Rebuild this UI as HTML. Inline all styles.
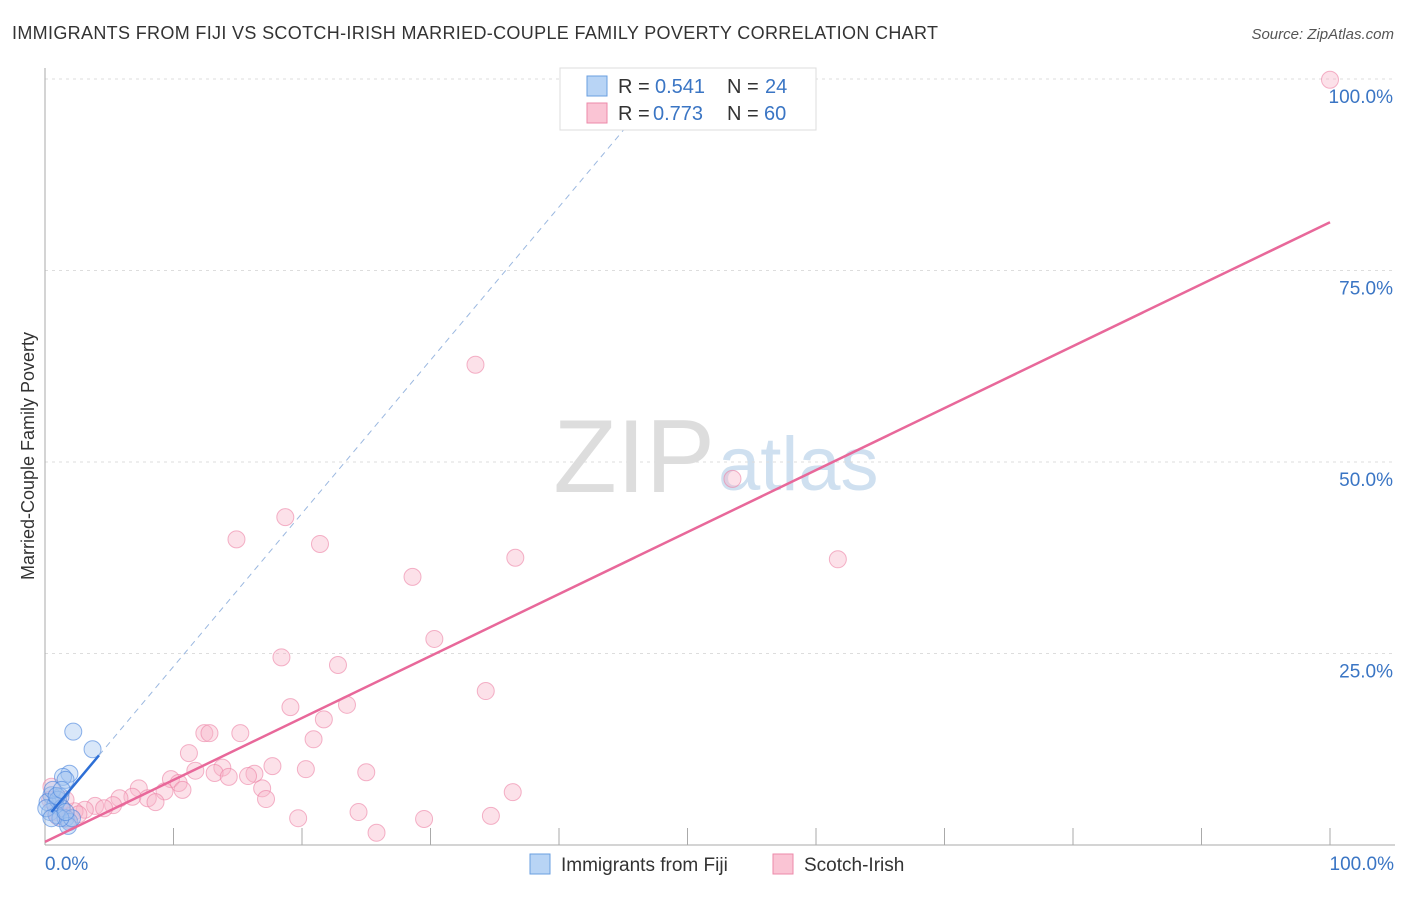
<!DOCTYPE html>
<html><head><meta charset="utf-8"><style>
body{margin:0;background:#fff;font-family:"Liberation Sans",sans-serif}
svg text{font-family:"Liberation Sans",sans-serif}
</style></head><body>
<svg id="c" width="1406" height="892">
<text x="12" y="39" font-size="18" fill="#333" textLength="926" lengthAdjust="spacing">IMMIGRANTS FROM FIJI VS SCOTCH-IRISH MARRIED-COUPLE FAMILY POVERTY CORRELATION CHART</text>
<text x="1394" y="39" font-size="15" fill="#555" font-style="italic" text-anchor="end">Source: ZipAtlas.com</text>
<text x="715" y="492" font-size="104" fill="#ddd" font-family="Liberation Serif" text-anchor="end">ZIP</text>
<text x="718" y="490" font-size="76" fill="#cfe0f0">atlas</text>
<text transform="translate(34,456) rotate(-90)" font-size="18" fill="#333" text-anchor="middle">Married-Couple Family Poverty</text>
<g id="grid"></g><g id="marks"></g>
<g>
<rect x="560" y="68" width="256" height="62" fill="#fff" stroke="#ddd"/>
<rect x="587" y="76" width="20" height="20" fill="#b8d4f5" stroke="#6a9fe0"/>
<rect x="587" y="103" width="20" height="20" fill="#fac4d4" stroke="#ec8aaa"/>
<text x="618" y="93" font-size="20" fill="#333">R = </text><text x="655" y="93" font-size="20" fill="#3a75c4">0.541</text>
<text x="727" y="93" font-size="20" fill="#333">N = </text><text x="765" y="93" font-size="20" fill="#3a75c4">24</text>
<text x="618" y="120" font-size="20" fill="#333">R = </text><text x="653" y="120" font-size="20" fill="#3a75c4">0.773</text>
<text x="727" y="120" font-size="20" fill="#333">N = </text><text x="764" y="120" font-size="20" fill="#3a75c4">60</text>
</g>
<g>
<rect x="530" y="854" width="20" height="20" fill="#b8d4f5" stroke="#6a9fe0"/>
<text x="561" y="871" font-size="19" fill="#333">Immigrants from Fiji</text>
<rect x="773" y="854" width="20" height="20" fill="#fac4d4" stroke="#ec8aaa"/>
<text x="804" y="871" font-size="19" fill="#333">Scotch-Irish</text>
</g>
</svg>
<script>
const yTicks=[25,50,75,100];
const yTickLabels=["25.0%","50.0%","75.0%","100.0%"];
const fijiX=[2.2,3.7,1.9,1.4,1.6,0.5,1.2,0.2,0.8,1.3,0.4,0.9,1.6,1.9,1.8,0.6,1.0,0.1,2.1,1.2,0.5,1.6,0.9,1.3];
const fijiY=[14.8,12.5,9.3,8.9,8.5,6.5,6.3,5.6,5.2,4.8,4.3,3.9,3.5,3.0,2.5,7.2,5.9,4.8,3.5,3.5,3.5,4.3,6.4,7.2];
const scotX=[100,33.5,53.5,18.7,14.9,21.4,36.6,61.7,28.6,30.3,18.4,22.8,34.3,19.1,23.5,21.7,20.9,12.4,12.8,15.2,11.2,17.7,11.7,13.8,20.3,25,16.3,15.8,13.2,14.3,9.8,10.4,10.7,16.9,7.3,9.3,36.4,17.2,8,8.6,6.8,5.8,5.3,3.9,4.6,3.1,2.3,24.4,19.7,29.5,34.7,25.8,0.5,0.4,0.8,1.3,1.8,1.0,1.6,2.6];
const scotY=[99.9,62.7,47.8,42.8,39.9,39.3,37.5,37.3,35,26.9,24.5,23.5,20.1,18,18.3,16.4,13.8,14.6,14.6,14.6,12,10.3,9.7,10.1,9.9,9.5,9.3,9,9.4,8.9,8.6,8.1,7.2,7.4,7.4,7,6.9,6,6.1,5.6,6.3,6.1,5.2,5.1,4.8,4.6,4.4,4.3,3.5,3.4,3.8,1.6,7.6,5.9,4.3,4.8,3.3,3.7,5.9,4.0];
const fijiFit=[3.3,2.0], scotFit=[0.4,0.809];
const X=v=>45+v*12.85, Y=v=>845-v*7.66;
const NS="http://www.w3.org/2000/svg";
function mk(p,t,a){const e=document.createElementNS(NS,t);for(const k in a)e.setAttribute(k,a[k]);p.appendChild(e);return e;}
const g=document.getElementById('grid'),m=document.getElementById('marks');
yTicks.forEach((t,i)=>{
 const l=mk(g,'line',{x1:45,x2:1395,y1:Y(t),y2:Y(t),stroke:'#ddd','stroke-dasharray':'3,4'});
 
 
 const tx=mk(g,'text',{x:1393,y:Y(t)+24,'font-size':19,fill:'#3a75c4','text-anchor':'end'});tx.textContent=yTickLabels[i];
 
 
});
mk(g,'line',{x1:45,x2:45,y1:68,y2:845,stroke:'#aaa'});
mk(g,'line',{x1:45,x2:1395,y1:845,y2:845,stroke:'#aaa'});
for(let i=1;i<=10;i++){const t=mk(g,'line',{x1:X(i*10),x2:X(i*10),y1:828,y2:845,stroke:'#aaa'});
 
 }
const x0=mk(g,'text',{x:45,y:870,'font-size':19,fill:'#3a75c4'});x0.textContent='0.0%';


const x1=mk(g,'text',{x:1394,y:870,'font-size':19,fill:'#3a75c4','text-anchor':'end'});x1.textContent='100.0%';


scotX.forEach((v,i)=>{const c=mk(m,'circle',{cx:X(v),cy:Y(scotY[i]),r:8.5,fill:'rgba(248,180,200,0.4)',stroke:'rgba(236,130,165,0.6)'});
 
 });
fijiX.forEach((v,i)=>{const c=mk(m,'circle',{cx:X(v),cy:Y(fijiY[i]),r:8.5,fill:'rgba(160,196,240,0.4)',stroke:'rgba(70,130,220,0.6)'});
 
 });
const xe=(100-fijiFit[0])/fijiFit[1];
const d=mk(m,'line',{x1:X(4.2),y1:Y(fijiFit[0]+fijiFit[1]*4.2),x2:X(xe),y2:Y(100),stroke:'#9bb8e0','stroke-dasharray':'6,5','stroke-width':1});


const s=mk(m,'line',{x1:X(0.5),y1:Y(fijiFit[0]+fijiFit[1]*0.5),x2:X(4.2),y2:Y(fijiFit[0]+fijiFit[1]*4.2),stroke:'#2d6fd6','stroke-width':2.5});


const p=mk(m,'line',{x1:X(0),y1:Y(scotFit[0]),x2:X(100),y2:Y(scotFit[0]+scotFit[1]*100),stroke:'#e8689a','stroke-width':2.5});


</script>
</body></html>
